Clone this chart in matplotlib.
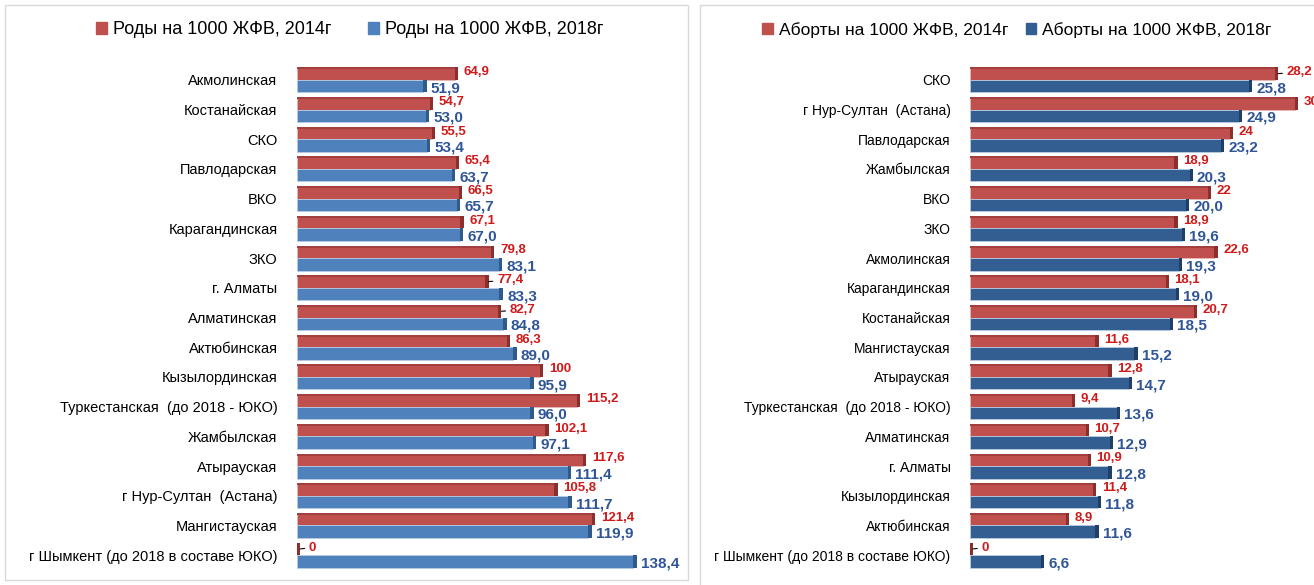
import matplotlib
matplotlib.use("Agg")
import matplotlib.pyplot as plt
from matplotlib.patches import Rectangle

# left panel: births per 1000 women of fertile age
births_regions = [
    "Акмолинская", "Костанайская", "СКО", "Павлодарская", "ВКО",
    "Карагандинская", "ЗКО", "г. Алматы", "Алматинская", "Актюбинская",
    "Кызылординская", "Туркестанская  (до 2018 - ЮКО)", "Жамбылская",
    "Атырауская", "г Нур-Султан  (Астана)", "Мангистауская",
    "г Шымкент (до 2018 в составе ЮКО)",
]
births_2014 = [64.9, 54.7, 55.5, 65.4, 66.5, 67.1, 79.8, 77.4, 82.7, 86.3,
               100, 115.2, 102.1, 117.6, 105.8, 121.4, 0]
births_2018 = [51.9, 53.0, 53.4, 63.7, 65.7, 67.0, 83.1, 83.3, 84.8, 89.0,
               95.9, 96.0, 97.1, 111.4, 111.7, 119.9, 138.4]

# right panel: abortions per 1000 women of fertile age
abort_regions = [
    "СКО", "г Нур-Султан  (Астана)", "Павлодарская", "Жамбылская", "ВКО",
    "ЗКО", "Акмолинская", "Карагандинская", "Костанайская", "Мангистауская",
    "Атырауская", "Туркестанская  (до 2018 - ЮКО)", "Алматинская",
    "г. Алматы", "Кызылординская", "Актюбинская",
    "г Шымкент (до 2018 в составе ЮКО)",
]
abort_2014 = [28.2, 30, 24, 18.9, 22, 18.9, 22.6, 18.1, 20.7, 11.6, 12.8,
              9.4, 10.7, 10.9, 11.4, 8.9, 0]
abort_2018 = [25.8, 24.9, 23.2, 20.3, 20.0, 19.6, 19.3, 19.0, 18.5, 15.2,
              14.7, 13.6, 12.9, 12.8, 11.8, 11.6, 6.6]

RED = "#C0504D"
RED_DARK = "#8C2E2B"
RED_TXT = "#D01919"
BLUE_L = "#4F81BD"
BLUE_L_DARK = "#2F5A8C"
BLUE_R = "#335E91"
BLUE_R_DARK = "#1F3F66"
BLUE_TXT = "#2F5597"

LABEL_FONT = ["Liberation Sans Narrow", "Liberation Sans", "DejaVu Sans"]
VAL_FONT = ["Liberation Sans", "DejaVu Sans"]
LEG_FONT = ["Liberation Sans", "DejaVu Sans"]


def fmt_red(v):
    if float(v).is_integer():
        return str(int(v))
    return f"{v:.1f}".replace(".", ",")


def fmt_blue(v):
    return f"{v:.1f}".replace(".", ",")


def draw_panel(ax, regions, v14, v18, xmax, blue, blue_dark, leaders, label_size):
    n = len(regions)
    y = list(range(n))
    h = 0.42
    depth = xmax * 0.009
    ax.set_xlim(0, xmax)
    ax.set_ylim(n - 0.5, -0.5)
    y_red = [i - h / 2 for i in y]
    y_blue = [i + h / 2 for i in y]
    ax.barh(y_red, v14, height=h, color=RED, edgecolor="#E8B8B6", linewidth=0.6, zorder=2)
    ax.barh(y_red, [depth] * n, left=v14, height=h, color=RED_DARK, zorder=2)
    ax.barh([v - h * 0.42 for v in y_red], v14, height=h * 0.16, color="#A33F3C", zorder=3)
    ax.barh(y_blue, v18, height=h, color=blue, edgecolor="#B9CCE4", linewidth=0.6, zorder=2)
    ax.barh(y_blue, [depth] * n, left=v18, height=h, color=blue_dark, zorder=2)

    for i in y:
        if i in leaders:
            ax.annotate(fmt_red(v14[i]), xy=(v14[i] + depth, y_red[i]),
                        xytext=(6, 1), textcoords="offset points",
                        color=RED_TXT, fontsize=9.5, fontweight="bold",
                        family=VAL_FONT, va="center", ha="left",
                        arrowprops=dict(arrowstyle="-", color="black", lw=0.8,
                                        shrinkA=1, shrinkB=0), annotation_clip=False)
        else:
            ax.annotate(fmt_red(v14[i]), xy=(v14[i] + depth, y_red[i]),
                        xytext=(4, 1), textcoords="offset points",
                        color=RED_TXT, fontsize=9.5, fontweight="bold",
                        family=VAL_FONT, va="center", ha="left", annotation_clip=False)
        ax.annotate(fmt_blue(v18[i]), xy=(v18[i] + depth, y_blue[i]),
                    xytext=(3, -1.5), textcoords="offset points",
                    color=BLUE_TXT, fontsize=11, fontweight="bold",
                    family=VAL_FONT, va="center", ha="left", annotation_clip=False)

    ax.set_yticks(y)
    ax.set_yticklabels(regions, family=LABEL_FONT, fontsize=label_size)
    ax.tick_params(axis="y", length=0, pad=14)
    ax.set_xticks([])
    for s in ax.spines.values():
        s.set_visible(False)
    ax.patch.set_alpha(0)


fig = plt.figure(figsize=(13.14, 5.85), dpi=100)

# panel frames
fig.add_artist(Rectangle((5 / 1314, 1 - 580 / 585), 683 / 1314, 575 / 585,
                         transform=fig.transFigure, fill=False,
                         edgecolor="#D9D9D9", linewidth=1.0))
fig.add_artist(Rectangle((700 / 1314, -0.01), 0.5, 1 - 5 / 585 + 0.01,
                         transform=fig.transFigure, fill=False,
                         edgecolor="#D9D9D9", linewidth=1.0))

bottom = 1 - 570 / 585
height = (570 - 65) / 585

ax1 = fig.add_axes([297 / 1314, bottom, 383 / 1314, height])
draw_panel(ax1, births_regions, births_2014, births_2018, 157.6,
           BLUE_L, BLUE_L_DARK, leaders={7, 8, 16}, label_size=10.5)

ax2 = fig.add_axes([970 / 1314, bottom, 344 / 1314, height])
draw_panel(ax2, abort_regions, abort_2014, abort_2018, 31.8,
           BLUE_R, BLUE_R_DARK, leaders={0, 16}, label_size=10)

# legends
h1 = [Rectangle((0, 0), 1, 1, color=RED), Rectangle((0, 0), 1, 1, color=BLUE_L)]
fig.legend(h1, ["Роды на 1000 ЖФВ, 2014г", "Роды на 1000 ЖФВ, 2018г"],
           loc="center", bbox_to_anchor=(350 / 1314, 1 - 30 / 585), ncol=2,
           frameon=False, prop={"family": LEG_FONT, "size": 13},
           handlelength=0.6, handleheight=0.6, handletextpad=0.35, columnspacing=2.0)
h2 = [Rectangle((0, 0), 1, 1, color=RED), Rectangle((0, 0), 1, 1, color=BLUE_R)]
fig.legend(h2, ["Аборты на 1000 ЖФВ, 2014г", "Аборты на 1000 ЖФВ, 2018г"],
           loc="center", bbox_to_anchor=(1017 / 1314, 1 - 30 / 585), ncol=2,
           frameon=False, prop={"family": LEG_FONT, "size": 12.5},
           handlelength=0.6, handleheight=0.6, handletextpad=0.35, columnspacing=1.0)

fig.savefig("out.png", dpi=100)
